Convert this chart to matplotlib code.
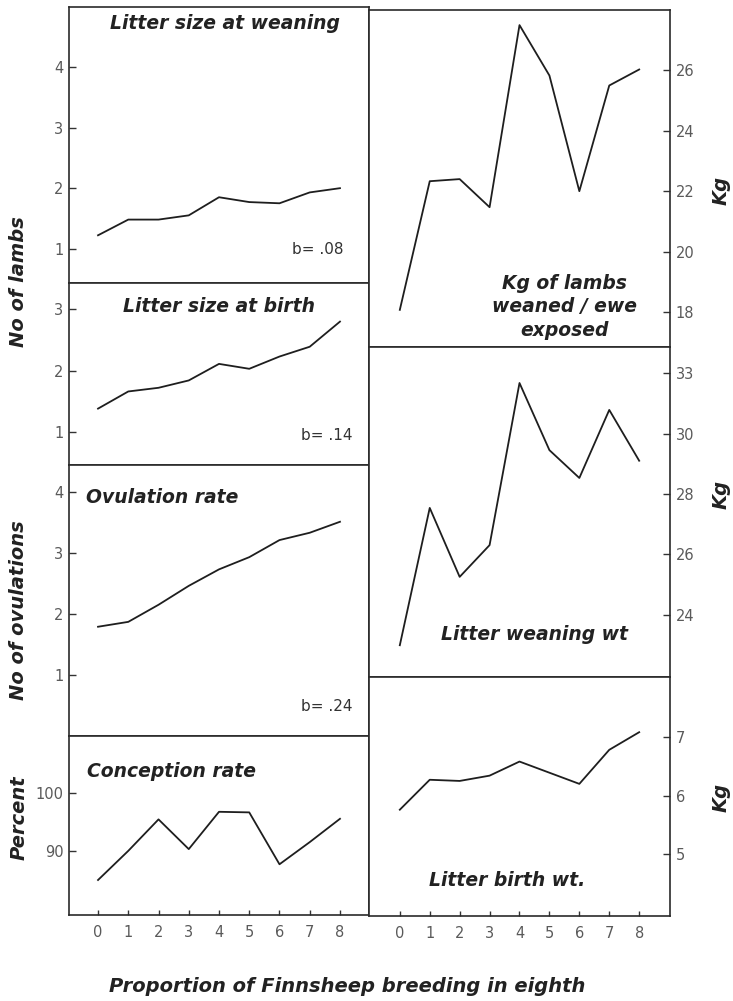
import numpy as np
import matplotlib
matplotlib.use("Agg")
import matplotlib.pyplot as plt

# --- data ---
eighths = [0, 1, 2, 3, 4, 5, 6, 7, 8]

litter_weaning = [1.22, 1.48, 1.48, 1.55, 1.85, 1.77, 1.75, 1.93, 2.00]
litter_birth = [1.38, 1.66, 1.72, 1.84, 2.11, 2.03, 2.23, 2.39, 2.80]
ovulation = [1.79, 1.87, 2.15, 2.46, 2.73, 2.93, 3.21, 3.33, 3.51]
conception = [85.1, 90.1, 95.5, 90.4, 96.8, 96.7, 87.8, 91.6, 95.6]

kg_weaned_ewe = [18.07, 22.33, 22.40, 21.47, 27.50, 25.83, 22.00, 25.50, 26.03]
litter_wean_wt = [23.0, 27.54, 25.26, 26.31, 31.67, 29.45, 28.53, 30.78, 29.10]
litter_birth_wt = [5.76, 6.27, 6.25, 6.34, 6.58, 6.39, 6.20, 6.78, 7.08]

# tick labels (the printed "33" sits where 32 would be)
wean_wt_ticks = [24, 26, 28, 30, 32]
wean_wt_labels = ["24", "26", "28", "30", "33"]

W, H = 733, 1001
fig = plt.figure(figsize=(W / 100, H / 100), dpi=100)
fig.patch.set_facecolor("white")

LINE = "#1e1e1e"
TICKC = "#5a5a5a"
TITLE_FONT = dict(fontsize=13.5, fontweight="bold", style="oblique",
                  color="#222222", family="DejaVu Sans")


def px_axes(x0, y0, x1, y1):
    # axes placed from pixel box (y measured from the top)
    return fig.add_axes([x0 / W, 1 - y1 / H, (x1 - x0) / W, (y1 - y0) / H])


def style(ax, side, xlim, ylim, yticks, ylabels=None, bottom=False):
    ax.set_xlim(*xlim)
    ax.set_ylim(*ylim)
    for sp in ax.spines.values():
        sp.set_linewidth(1.2)
        sp.set_color("#2a2a2a")
    ax.set_yticks(yticks)
    ax.set_yticklabels(ylabels if ylabels else [str(t) for t in yticks])
    if side == "right":
        ax.yaxis.tick_right()
    ax.tick_params(axis="y", direction="in", length=5, width=1.0,
                   colors="#333333", labelcolor=TICKC, labelsize=10.5, pad=4)
    if bottom:
        ax.set_xticks(eighths)
        ax.set_xticklabels([str(e) for e in eighths])
        ax.tick_params(axis="x", direction="in", length=3.5, width=1.0,
                       colors="#333333", labelcolor=TICKC, labelsize=10.5, pad=7)
    else:
        ax.set_xticks([])


LX = (-0.96, 8.96)
RX = (-1.03, 9.03)

# left column
a1 = px_axes(69, 7, 369, 283)
a1.plot(eighths, litter_weaning, color=LINE, lw=1.3)
style(a1, "left", LX, (0.43, 5.0), [1, 2, 3, 4])
a1.text(0.52, 0.94, "Litter size at weaning", transform=a1.transAxes,
        ha="center", va="center", **TITLE_FONT)
a1.text(0.83, 0.12, "b= .08", transform=a1.transAxes, ha="center",
        va="center", fontsize=11, color="#333333")

a2 = px_axes(69, 283, 369, 465)
a2.plot(eighths, litter_birth, color=LINE, lw=1.3)
style(a2, "left", LX, (0.46, 3.43), [1, 2, 3])
a2.text(0.50, 0.87, "Litter size at birth", transform=a2.transAxes,
        ha="center", va="center", **TITLE_FONT)
a2.text(0.86, 0.16, "b= .14", transform=a2.transAxes, ha="center",
        va="center", fontsize=11, color="#333333")

a3 = px_axes(69, 465, 369, 736)
a3.plot(eighths, ovulation, color=LINE, lw=1.3)
style(a3, "left", LX, (0.0, 4.44), [1, 2, 3, 4])
a3.text(0.055, 0.88, "Ovulation rate", transform=a3.transAxes,
        ha="left", va="center", **TITLE_FONT)
a3.text(0.86, 0.11, "b= .24", transform=a3.transAxes, ha="center",
        va="center", fontsize=11, color="#333333")

a4 = px_axes(69, 736, 369, 915)
a4.plot(eighths, conception, color=LINE, lw=1.3)
style(a4, "left", LX, (79.1, 109.8), [90, 100], bottom=True)
a4.text(0.06, 0.80, "Conception rate", transform=a4.transAxes,
        ha="left", va="center", **TITLE_FONT)

# right column
b1 = px_axes(369, 10, 670, 347)
b1.plot(eighths, kg_weaned_ewe, color=LINE, lw=1.3)
style(b1, "right", RX, (16.84, 28.0), [18, 20, 22, 24, 26])
b1.text(0.65, 0.12, "Kg of lambs\nweaned / ewe\nexposed", transform=b1.transAxes,
        ha="center", va="center", linespacing=1.3, **TITLE_FONT)

b2 = px_axes(369, 347, 670, 677)
b2.plot(eighths, litter_wean_wt, color=LINE, lw=1.3)
style(b2, "right", RX, (21.95, 32.86), wean_wt_ticks, wean_wt_labels)
b2.text(0.55, 0.13, "Litter weaning wt", transform=b2.transAxes,
        ha="center", va="center", **TITLE_FONT)

b3 = px_axes(369, 677, 670, 916)
b3.plot(eighths, litter_birth_wt, color=LINE, lw=1.3)
style(b3, "right", RX, (3.95, 8.02), [5, 6, 7], bottom=True)
b3.text(0.46, 0.15, "Litter birth wt.", transform=b3.transAxes,
        ha="center", va="center", **TITLE_FONT)

# axis titles
lab = dict(fontsize=14, fontweight="bold", style="oblique", color="#222222",
           family="DejaVu Sans", ha="center", va="center", rotation=90)
fig.text(19 / W, 1 - 282 / H, "No of lambs", **lab)
fig.text(19 / W, 1 - 610 / H, "No of ovulations", **lab)
fig.text(19 / W, 1 - 818 / H, "Percent", **lab)
for yc in (190, 494, 797):
    fig.text(721 / W, 1 - yc / H, "Kg", **lab)

fig.text(347 / W, 1 - 987 / H, "Proportion of Finnsheep breeding in eighth",
         fontsize=14, fontweight="bold", style="oblique", color="#222222",
         family="DejaVu Sans", ha="center", va="center")

fig.savefig("out.png", dpi=100)
